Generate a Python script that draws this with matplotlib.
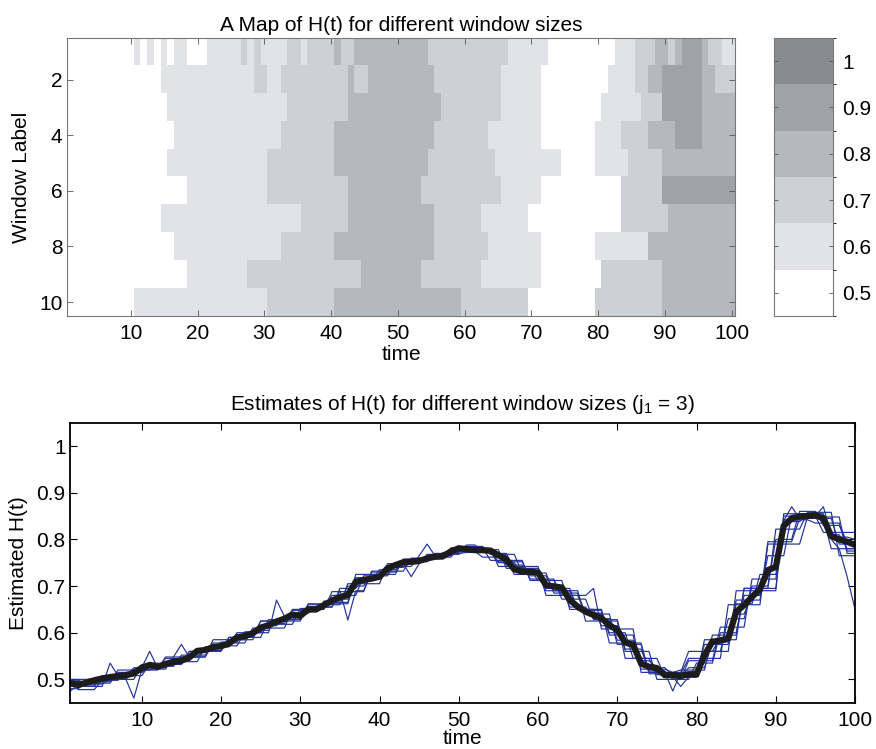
import numpy as np
import matplotlib
matplotlib.use("Agg")
import matplotlib.pyplot as plt
from matplotlib.colors import ListedColormap, BoundaryNorm
from matplotlib.colorbar import ColorbarBase

plt.rcParams['font.family'] = ['Liberation Sans', 'DejaVu Sans']
plt.rcParams['mathtext.fontset'] = 'custom'
plt.rcParams['mathtext.rm'] = 'Liberation Sans'
plt.rcParams['mathtext.it'] = 'Liberation Sans:italic'

# --- data: quantised H(t) map, one string per window label (digit = level) ---
levels = [0.5, 0.6, 0.7, 0.8, 0.9, 1.0]
level_colors = ['#ffffff', '#e1e3e7', '#cdd0d5', '#b5b8be', '#9ea2a9', '#878c92']
window_labels = list(range(1, 11))

map_rows = [
    "0000000000" "1010101100" "0111112121" "1112212222" "3223333333"
    "3333222222" "2222221111" "1100000000" "0011122233" "2344432211",
    "0000000000" "0000111111" "1111111122" "1122222222" "2232233333"
    "3333322222" "2222211111" "1000000000" "0111122334" "4444433222",
    "0000000000" "0000011111" "1111111111" "1112222222" "2233333333"
    "3333332222" "2222211111" "1000000000" "1111112224" "4444433333",
    "0000000000" "0000001111" "1111111111" "1122222222" "3333333333"
    "3333322222" "2221111111" "1000000001" "1112222333" "3444433333",
    "0000000000" "0000011111" "1111111111" "2222222222" "3333333333"
    "3333222222" "2222111111" "1111000001" "1111222223" "3333333333",
    "0000000000" "0000000011" "1111111111" "2222222222" "2233333333"
    "3332222222" "2222211111" "1000000000" "0002222224" "4444444444",
    "0000000000" "0000111111" "1111111111" "1111122222" "2233333333"
    "3333322222" "2211111110" "0000000000" "0002222222" "3333333333",
    "0000000000" "0000001111" "1111111111" "1122222222" "3333333333"
    "3333322222" "2221111111" "1000000001" "1111111333" "3333333333",
    "0000000000" "0000000011" "1111111222" "2222222222" "2222333333"
    "3332222222" "2211111111" "1000000000" "2222222223" "3333333333",
    "0000000000" "1111111111" "1111111111" "2222222222" "3333333333"
    "3333333332" "2222222220" "0000000002" "2222222223" "3333333333",
]

# --- data: estimates of H(t), average (black) and per window size (blue) ---
time = np.arange(1, 101)

h_mean = [
    .492, .488, .493, .498, .502, .505, .507, .509, .513, .525,
    .531, .527, .533, .538, .540, .547, .561, .563, .569, .571,
    .577, .590, .593, .599, .611, .616, .624, .630, .639, .636,
    .650, .650, .659, .669, .676, .681, .709, .713, .716, .720,
    .738, .745, .751, .752, .754, .759, .763, .764, .774, .781,
    .779, .777, .777, .776, .766, .757, .736, .731, .731, .729,
    .702, .699, .697, .670, .656, .645, .638, .631, .616, .606,
    .579, .574, .534, .527, .524, .509, .509, .507, .511, .511,
    .552, .581, .583, .588, .645, .659, .677, .693, .734, .741,
    .829, .845, .849, .850, .852, .845, .807, .800, .795, .788,
]

h_w1 = [
    .495, .495, .495, .500, .500, .500, .512, .512, .512, .530,
    .530, .530, .534, .534, .534, .560, .560, .560, .570, .570,
    .570, .596, .596, .596, .615, .615, .615, .632, .632, .632,
    .655, .655, .655, .672, .672, .672, .712, .712, .712, .735,
    .735, .735, .750, .750, .750, .765, .765, .765, .780, .780,
    .780, .778, .778, .778, .750, .750, .750, .728, .728, .728,
    .700, .700, .700, .655, .655, .655, .630, .630, .630, .584,
    .584, .584, .530, .530, .530, .505, .505, .505, .525, .525,
    .525, .580, .580, .580, .662, .662, .662, .725, .725, .725,
    .838, .838, .838, .852, .852, .852, .805, .805, .805, .800,
]
h_w2 = [
    .480, .480, .495, .495, .495, .500, .500, .500, .460, .520,
    .520, .532, .532, .532, .548, .548, .548, .566, .566, .566,
    .585, .585, .585, .605, .605, .605, .628, .628, .628, .645,
    .645, .645, .668, .668, .668, .700, .700, .700, .725, .725,
    .725, .748, .748, .748, .757, .757, .757, .772, .772, .772,
    .785, .785, .785, .770, .770, .770, .735, .735, .735, .712,
    .712, .712, .680, .680, .680, .640, .640, .640, .600, .600,
    .600, .545, .545, .545, .510, .510, .510, .505, .505, .505,
    .560, .560, .560, .630, .630, .630, .700, .700, .700, .800,
    .800, .800, .860, .860, .860, .830, .830, .830, .795, .795,
]
h_w3 = [
    .488, .488, .488, .488, .508, .508, .508, .508, .525, .525,
    .560, .525, .545, .545, .545, .545, .562, .562, .562, .562,
    .590, .590, .590, .590, .625, .625, .625, .625, .648, .648,
    .648, .648, .665, .665, .665, .665, .718, .718, .718, .718,
    .742, .742, .742, .742, .765, .790, .765, .765, .775, .775,
    .775, .775, .762, .762, .762, .762, .725, .725, .725, .725,
    .695, .695, .695, .695, .648, .648, .648, .648, .595, .595,
    .595, .595, .522, .522, .522, .522, .515, .515, .515, .515,
    .575, .575, .575, .575, .670, .670, .670, .670, .795, .795,
    .795, .795, .845, .845, .845, .845, .780, .780, .780, .780,
]
h_w4 = [
    .498, .498, .492, .492, .492, .492, .515, .515, .515, .515,
    .528, .528, .528, .528, .552, .552, .552, .552, .572, .572,
    .572, .572, .600, .600, .600, .600, .670, .635, .635, .635,
    .655, .655, .655, .655, .690, .627, .690, .690, .730, .730,
    .730, .730, .755, .755, .755, .755, .770, .770, .770, .770,
    .772, .772, .772, .772, .752, .752, .752, .752, .715, .715,
    .715, .715, .672, .672, .672, .672, .628, .628, .628, .628,
    .560, .560, .560, .560, .500, .500, .500, .500, .540, .540,
    .540, .540, .612, .612, .612, .612, .715, .715, .715, .715,
    .842, .842, .842, .842, .835, .835, .835, .835, .775, .775,
]
h_w5 = [
    .485, .485, .485, .485, .485, .535, .508, .508, .508, .508,
    .532, .532, .532, .532, .532, .560, .560, .560, .560, .560,
    .590, .590, .590, .590, .590, .628, .628, .628, .628, .628,
    .660, .660, .660, .660, .660, .705, .705, .705, .705, .705,
    .748, .748, .748, .720, .748, .768, .768, .768, .768, .768,
    .778, .778, .778, .778, .778, .738, .738, .738, .738, .738,
    .690, .690, .690, .690, .690, .625, .625, .625, .625, .625,
    .545, .545, .545, .545, .545, .505, .505, .485, .505, .505,
    .585, .585, .585, .585, .585, .695, .695, .695, .695, .695,
    .850, .850, .850, .850, .850, .815, .815, .815, .815, .815,
]
h_w6 = [
    .500, .500, .500, .502, .502, .502, .502, .502, .522, .522,
    .522, .522, .522, .548, .575, .548, .548, .548, .578, .578,
    .578, .578, .578, .610, .610, .610, .610, .610, .650, .650,
    .650, .650, .650, .688, .688, .688, .688, .688, .732, .732,
    .732, .732, .732, .760, .760, .760, .760, .760, .782, .782,
    .782, .782, .782, .755, .755, .755, .755, .755, .712, .712,
    .712, .712, .712, .650, .650, .650, .650, .650, .578, .578,
    .578, .578, .578, .512, .512, .512, .512, .512, .545, .545,
    .545, .545, .545, .660, .660, .660, .660, .660, .790, .790,
    .790, .790, .790, .848, .848, .848, .848, .848, .770, .770,
]
h_w7 = [
    .490, .490, .485, .485, .505, .505, .500, .500, .518, .518,
    .535, .535, .530, .530, .545, .545, .565, .565, .568, .568,
    .582, .582, .598, .598, .612, .612, .626, .626, .640, .640,
    .648, .648, .662, .662, .680, .680, .708, .708, .720, .720,
    .742, .742, .750, .750, .752, .752, .768, .768, .775, .775,
    .788, .788, .778, .778, .765, .765, .740, .740, .732, .732,
    .705, .705, .690, .690, .650, .650, .642, .642, .612, .612,
    .580, .580, .540, .540, .525, .525, .508, .508, .515, .515,
    .560, .560, .590, .590, .640, .640, .680, .680, .740, .740,
    .840, .870, .845, .845, .850, .870, .810, .810, .780, .780,
]
h_w8 = [
    .495, .495, .495, .495, .495, .495, .520, .520, .520, .520,
    .520, .520, .548, .548, .548, .548, .548, .548, .585, .585,
    .585, .585, .585, .585, .625, .625, .625, .625, .625, .625,
    .662, .662, .662, .662, .662, .662, .725, .725, .725, .725,
    .725, .725, .758, .758, .758, .758, .758, .758, .780, .780,
    .780, .780, .780, .780, .742, .742, .742, .742, .742, .742,
    .680, .680, .680, .680, .680, .680, .695, .608, .608, .608,
    .608, .608, .515, .515, .515, .515, .475, .515, .560, .560,
    .560, .560, .560, .560, .690, .690, .690, .690, .690, .690,
    .855, .855, .855, .855, .855, .855, .800, .780, .720, .650,
]
h_w9 = [
    .500, .478, .478, .478, .498, .498, .498, .515, .515, .515,
    .525, .525, .525, .540, .540, .540, .560, .560, .560, .580,
    .580, .580, .602, .602, .602, .620, .620, .620, .642, .642,
    .642, .655, .655, .655, .695, .695, .695, .715, .715, .715,
    .740, .740, .740, .755, .755, .755, .765, .765, .765, .780,
    .780, .780, .772, .772, .772, .745, .745, .745, .722, .722,
    .722, .690, .690, .690, .650, .650, .650, .615, .615, .615,
    .565, .565, .565, .518, .518, .518, .500, .500, .500, .535,
    .535, .535, .600, .600, .600, .680, .680, .680, .765, .765,
    .765, .852, .852, .852, .845, .845, .845, .790, .790, .790,
]
h_w10 = [
    .475, .490, .490, .490, .490, .500, .500, .500, .500, .532,
    .532, .532, .532, .538, .538, .538, .538, .570, .570, .570,
    .570, .600, .600, .600, .600, .618, .618, .618, .618, .652,
    .652, .652, .652, .680, .680, .680, .680, .722, .722, .722,
    .722, .748, .748, .748, .748, .762, .762, .762, .762, .782,
    .782, .782, .782, .768, .768, .768, .768, .728, .728, .728,
    .728, .685, .685, .685, .685, .640, .640, .640, .640, .575,
    .575, .575, .575, .515, .515, .515, .515, .520, .520, .520,
    .520, .595, .595, .595, .595, .695, .695, .695, .695, .822,
    .822, .822, .822, .858, .858, .858, .858, .765, .765, .765,
]
h_windows = [h_w1, h_w2, h_w3, h_w4, h_w5, h_w6, h_w7, h_w8, h_w9, h_w10]

# map levels -> H values
hmap = np.array([[levels[int(c)] for c in row] for row in map_rows])

fig = plt.figure(figsize=(8.76, 7.49), dpi=100)
FS = 15

bounds = [0.45, 0.55, 0.65, 0.75, 0.85, 0.95, 1.05]
cmap = ListedColormap(level_colors)
norm = BoundaryNorm(bounds, cmap.N)

# top: map
ax1 = fig.add_axes([0.0769, 0.5781, 0.7622, 0.3712])
ax1.imshow(hmap, cmap=cmap, norm=norm, aspect='auto', interpolation='nearest',
           extent=[0.5, 100.5, window_labels[-1] + 0.5, window_labels[0] - 0.5])
ax1.set_xticks(range(10, 101, 10))
ax1.set_yticks(range(2, 11, 2))
ax1.tick_params(direction='in', top=True, right=True, labelsize=FS, length=4,
                color='#555555', width=0.6)
ax1.tick_params(axis='x', pad=6)
for sp in ax1.spines.values():
    sp.set_color('#777777')
    sp.set_linewidth(0.8)
ax1.set_xlabel('time', fontsize=FS, labelpad=1)
ax1.set_ylabel('Window Label', fontsize=FS, labelpad=6)
ax1.set_title('A Map of H(t) for different window sizes', fontsize=FS, pad=5)

# colorbar
cax = fig.add_axes([0.8836, 0.5781, 0.0670, 0.3712])
cb = ColorbarBase(cax, cmap=cmap, norm=norm, boundaries=bounds,
                  ticks=levels, orientation='vertical')
cb.set_ticklabels(['0.5', '0.6', '0.7', '0.8', '0.9', '1'])
cb.outline.set_edgecolor('#777777')
cb.outline.set_linewidth(0.8)
cax.tick_params(direction='in', left=True, right=True, labelsize=FS, length=3,
                color='#555555', width=0.6, pad=7)

# bottom: estimates
ax2 = fig.add_axes([0.0804, 0.0618, 0.8957, 0.3738])
for hw in h_windows:
    ax2.plot(time, hw, color='#23329a', lw=0.85)
ax2.plot(time, h_mean, color='#1c1c1c', lw=4.5, solid_joinstyle='miter')
ax2.set_xlim(1, 100)
ax2.set_ylim(0.45, 1.05)
ax2.set_xticks(range(10, 101, 10))
ax2.set_yticks([0.5, 0.6, 0.7, 0.8, 0.9, 1.0])
ax2.set_yticklabels(['0.5', '0.6', '0.7', '0.8', '0.9', '1'])
ax2.tick_params(direction='in', top=True, right=True, labelsize=FS, length=5,
                width=0.8)
ax2.tick_params(axis='x', pad=6)
for sp in ax2.spines.values():
    sp.set_linewidth(1.3)
ax2.set_xlabel('time', fontsize=FS, labelpad=-1)
ax2.set_ylabel('Estimated H(t)', fontsize=FS, labelpad=6)
ax2.set_title(r'Estimates of H(t) for different window sizes (j$_{\mathrm{1}}$ = 3)',
              fontsize=FS, pad=9)

fig.savefig('out.png', dpi=100)
